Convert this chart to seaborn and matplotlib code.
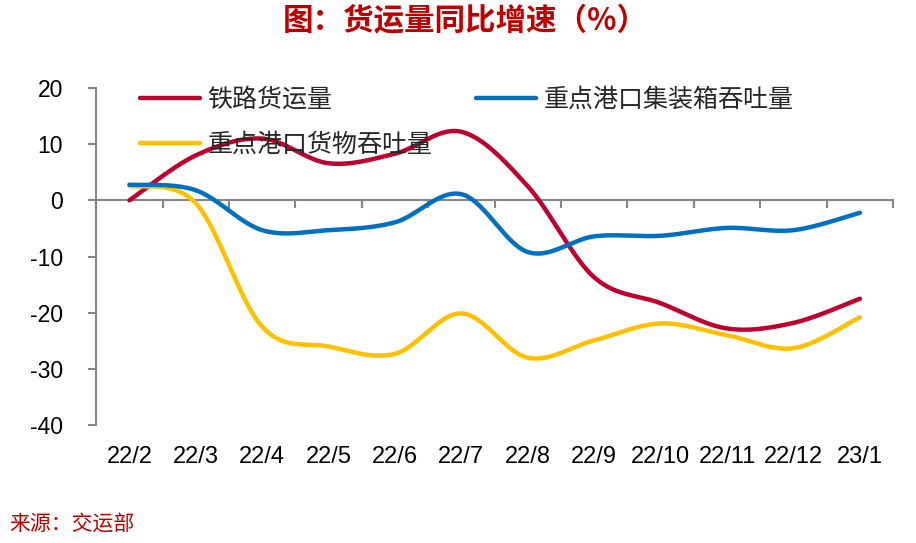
import matplotlib
matplotlib.use('Agg')
import matplotlib.pyplot as plt
import numpy as np
import seaborn as sns

months = ['22/2', '22/3', '22/4', '22/5', '22/6', '22/7', '22/8', '22/9', '22/10', '22/11', '22/12', '23/1']
rail = [0, 8, 11, 6.6, 8.3, 12.2, 2.5, -13.7, -18.3, -22.8, -21.8, -17.5]
container = [2.8, 1.8, -5.3, -5.3, -3.9, 1.1, -9.2, -6.4, -6.3, -4.9, -5.3, -2.2]
port_cargo = [2.6, -0.5, -22.5, -26.0, -27.3, -20.1, -28.0, -24.9, -21.9, -24.0, -26.3, -20.8]

names = ['铁路货运量', '重点港口货物吞吐量', '重点港口集装箱吞吐量']
colors = ['#C0002F', '#FFC000', '#0070C0']

sns.set_theme(style='white')
plt.rcParams['font.family'] = ['Liberation Sans', 'Noto Sans CJK SC']
plt.rcParams['axes.unicode_minus'] = False


# excel-style smoothed line (catmull-rom bezier through the points)
def smooth(vals, n=40):
    pts = np.column_stack([np.arange(len(vals)), vals]).astype(float)
    pad = np.vstack([pts[0], pts, pts[-1]])
    t = np.linspace(0, 1, n)[:, None]
    out = []
    for i in range(len(pts) - 1):
        p0, p1, p2, p3 = pad[i], pad[i + 1], pad[i + 2], pad[i + 3]
        c1 = p1 + (p2 - p0) / 6
        c2 = p2 - (p3 - p1) / 6
        seg = (1 - t) ** 3 * p1 + 3 * (1 - t) ** 2 * t * c1 + 3 * (1 - t) * t ** 2 * c2 + t ** 3 * p2
        out.append(seg if i == 0 else seg[1:])
    return np.vstack(out)


fig = plt.figure(figsize=(9.16, 5.43), dpi=100)
ax = fig.add_axes([0.105, 0.217, 0.870, 0.621])

for vals, name, c in zip([rail, port_cargo, container], names, colors):
    xy = smooth(vals)
    sns.lineplot(x=xy[:, 0], y=xy[:, 1], sort=False, color=c, lw=3.2, label=name, ax=ax)

grey = '#868686'
ax.set_xlim(-0.5, len(months) - 0.5)
ax.set_ylim(-40, 20)
ax.set_yticks(range(-40, 21, 10))
ax.set_xticks(range(len(months)))
ax.set_xticklabels(months)
for s in ['top', 'right', 'bottom']:
    ax.spines[s].set_visible(False)
ax.spines['left'].set_color(grey)
ax.spines['left'].set_linewidth(1.5)
ax.tick_params(axis='y', left=True, length=6, width=1.5, color=grey, pad=18, labelsize=16.5, labelcolor='black')
ax.tick_params(axis='x', bottom=True, length=0, pad=15, labelsize=17, labelcolor='black')

# category axis line sits at zero
sec = ax.secondary_xaxis(40 / 60)
sec.set_xticks(np.arange(-0.5, len(months), 1))
sec.set_xticklabels([])
sec.tick_params(axis='x', direction='in', length=6, width=1.5, color=grey)
for s in sec.spines.values():
    s.set_color(grey)
    s.set_linewidth(1.5)

ax.legend(loc='upper left', bbox_to_anchor=(0.055, 1.0), ncol=2, frameon=False,
          fontsize=18, handlelength=2.4, handletextpad=0.3, columnspacing=1.75,
          labelspacing=0.85, borderpad=0, borderaxespad=0)

fig.text(0.508, 0.963, '图：货运量同比增速（%）', ha='center', va='center',
         fontsize=22, fontweight='bold', color='#C00000', family=['Noto Sans CJK SC'])
fig.text(0.01, 0.036, '来源：交运部', ha='left', va='center', fontsize=15,
         color='#C00000', family=['Noto Sans CJK SC'])

fig.savefig('out.png', dpi=100)
